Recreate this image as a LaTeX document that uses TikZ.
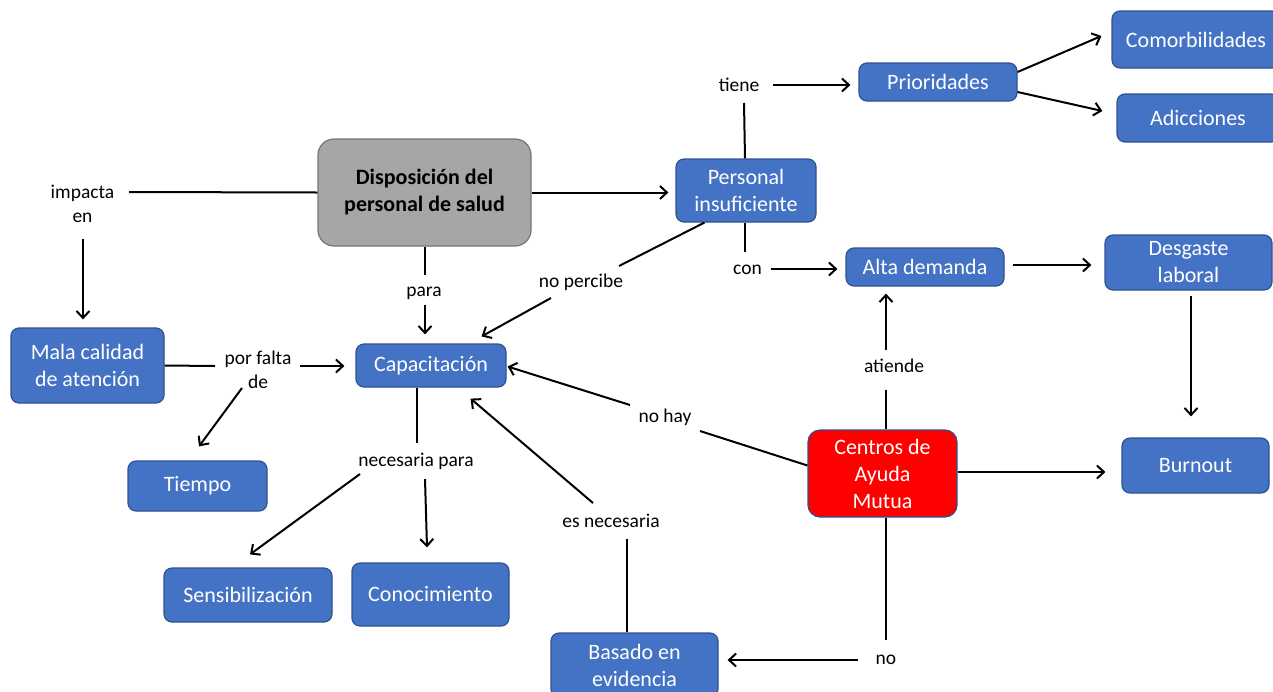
\documentclass[tikz,border=0pt]{standalone}
\usepackage{fontspec}
\setmainfont{Carlito}
\usetikzlibrary{arrows.meta,calc}

\definecolor{boxblue}{HTML}{4472C4}
\definecolor{boxline}{HTML}{2F528F}
\definecolor{boxgray}{HTML}{A6A6A6}
\definecolor{grayline}{HTML}{767676}
\definecolor{boxred}{HTML}{FF0000}

\tikzset{
  box/.style={draw=boxline, fill=boxblue, rounded corners=8pt, line width=1.2pt,
    text=white, align=center, inner sep=0pt,
    font=\fontsize{22}{27}\selectfont},
  sz/.style 2 args={minimum width=#1pt, minimum height=#2pt},
  mainbox/.style={box, draw=grayline, fill=boxgray, rounded corners=16pt,
    text=black, font=\fontsize{22}{27}\selectfont\bfseries},
  redbox/.style={box, fill=boxred, rounded corners=12pt},
  lbl/.style={inner sep=0pt, align=center, font=\fontsize{19.5}{24}\selectfont},
  link/.style={line width=2pt},
  arr/.style={link, -{Straight Barb[length=7pt,width=13pt,line width=2pt]}}
}

\begin{document}
\begin{tikzpicture}[x=1pt, y=-1pt]
\useasboundingbox (0,0) rectangle (1273,691);
\clip (0,0) rectangle (1273,691);

% concept boxes
\node[mainbox, sz={213}{107}] (disp) at (424.5,192.5) {Disposición del\\personal de salud};
\node[box, sz={140}{63}] (pers) at (746,190.5) {Personal\\insuficiente};
\node[box, sz={158}{38}] (prio) at (938,82) {Prioridades};
\node[box, sz={168}{57}] (com) at (1196,39.5) {Comorbilidades};
\node[box, sz={162}{48}] (adi) at (1198,118) {Adicciones};
\node[box, sz={158}{38}] (alta) at (925,267) {Alta demanda};
\node[box, sz={167}{55}] (desg) at (1188.5,262.5) {Desgaste\\laboral};
\node[box, sz={147}{55}] (burn) at (1195.5,465.5) {Burnout};
\node[redbox, sz={149}{87}] (cent) at (882.5,473.5) {Centros de\\Ayuda\\Mutua};
\node[box, sz={150}{43}] (capa) at (431,365.5) {Capacitación};
\node[box, sz={153}{75}] (mala) at (87.5,365.5) {Mala calidad\\de atención};
\node[box, sz={139}{50}] (tiem) at (197.5,486) {Tiempo};
\node[box, sz={168}{54}] (sens) at (248,595) {Sensibilización};
\node[box, sz={157}{63}] (cono) at (430.5,594.5) {Conocimiento};
\node[box, sz={167}{64}] (basa) at (634.5,665) {Basado en\\evidencia};

% linking phrases
\node[lbl] (impacta) at (82.5,204) {impacta\\en};
\node[lbl] (para) at (424,293) {para};
\node[lbl] (nopercibe) at (581,282) {no percibe};
\node[lbl] (tiene) at (739,85) {tiene};
\node[lbl] (con) at (747.5,270) {con};
\node[lbl] (porfalta) at (258,370) {por falta\\de};
\node[lbl] (necesaria) at (416,461) {necesaria para};
\node[lbl] (nohay) at (665,417) {no hay};
\node[lbl] (esnec) at (611,521) {es necesaria};
\node[lbl] (atiende) at (894,366) {atiende};
\node[lbl] (no) at (886,660) {no};

% connectors
\draw[link] ($(impacta)+(46.5,-12)$) -- (disp.west);
\draw[arr] ($(impacta)+(0.5,35)$) -- ($(mala.north)+(-4.5,-8)$);
\draw[arr] (disp.east) -- ($(pers.west)+(-7,2)$);
\draw[link] ($(disp.south)+(0.5,0)$) -- ($(para)+(1,-18)$);
\draw[arr] ($(para)+(1,12)$) -- ($(capa.north)+(-6,-9)$);
\draw[link] ($(pers.south west)+(29,0)$) -- ($(nopercibe)+(38,-16)$);
\draw[arr] ($(nopercibe)+(-30,16)$) -- ($(capa.north east)+(-25,-7)$);
\draw[link] ($(pers.north)+(-1,0)$) -- ($(tiene)+(5,18)$);
\draw[arr] ($(tiene)+(34,0)$) -- ($(prio.west)+(-8,3)$);
\draw[arr] ($(prio.east)+(0,-10)$) -- ($(com.west)+(-10,-3.5)$);
\draw[arr] ($(prio.east)+(0,10)$) -- ($(adi.west)+(-14,-7)$);
\draw[link] ($(pers.south)+(-1,0)$) -- ($(con)+(-2.5,-18)$);
\draw[arr] ($(con)+(23,-1)$) -- ($(alta.west)+(-8,2)$);
\draw[arr] ($(alta.east)+(8,-2)$) -- ($(desg.west)+(-13,2.5)$);
\draw[arr] ($(desg.south)+(2.5,5)$) -- ($(burn.north)+(-4.5,-21)$);
\draw[arr] ($(cent.east)+(0,-1.5)$) -- ($(burn.west)+(-16,6.5)$);
\draw[link] ($(cent.north)+(3.5,0)$) -- ($(atiende)+(-8,24)$);
\draw[arr] ($(atiende)+(-8,-16)$) -- ($(alta.south)+(-39,7)$);
\draw[link] ($(cent.west)+(0,-8)$) -- ($(nohay)+(35,14)$);
\draw[arr] ($(nohay)+(-35,-12)$) -- ($(capa.east)+(1,1)$);
\draw[link] ($(basa.north)+(-7.5,0)$) -- ($(esnec)+(16,18)$);
\draw[arr] ($(esnec)+(-18,-18)$) -- ($(capa.south east)+(-36,11)$);
\draw[link] ($(cent.south)+(3,0)$) -- ($(no)+(-0.5,-20)$);
\draw[arr] ($(no)+(-28,0)$) -- ($(basa.east)+(9,-5)$);
\draw[link] (mala.east) -- ($(porfalta)+(-43,-4)$);
\draw[arr] ($(porfalta)+(42,-4)$) -- ($(capa.west)+(-11,0.5)$);
\draw[arr] ($(porfalta)+(-16,18)$) -- ($(tiem.north)+(1.5,-14)$);
\draw[link] ($(capa.south)+(-14,0)$) -- ($(necesaria)+(1,-18)$);
\draw[arr] ($(necesaria)+(-56,13)$) -- ($(sens.north)+(2,-13)$);
\draw[arr] ($(necesaria)+(9,18)$) -- ($(cono.north)+(-3.5,-15)$);
\end{tikzpicture}
\end{document}
